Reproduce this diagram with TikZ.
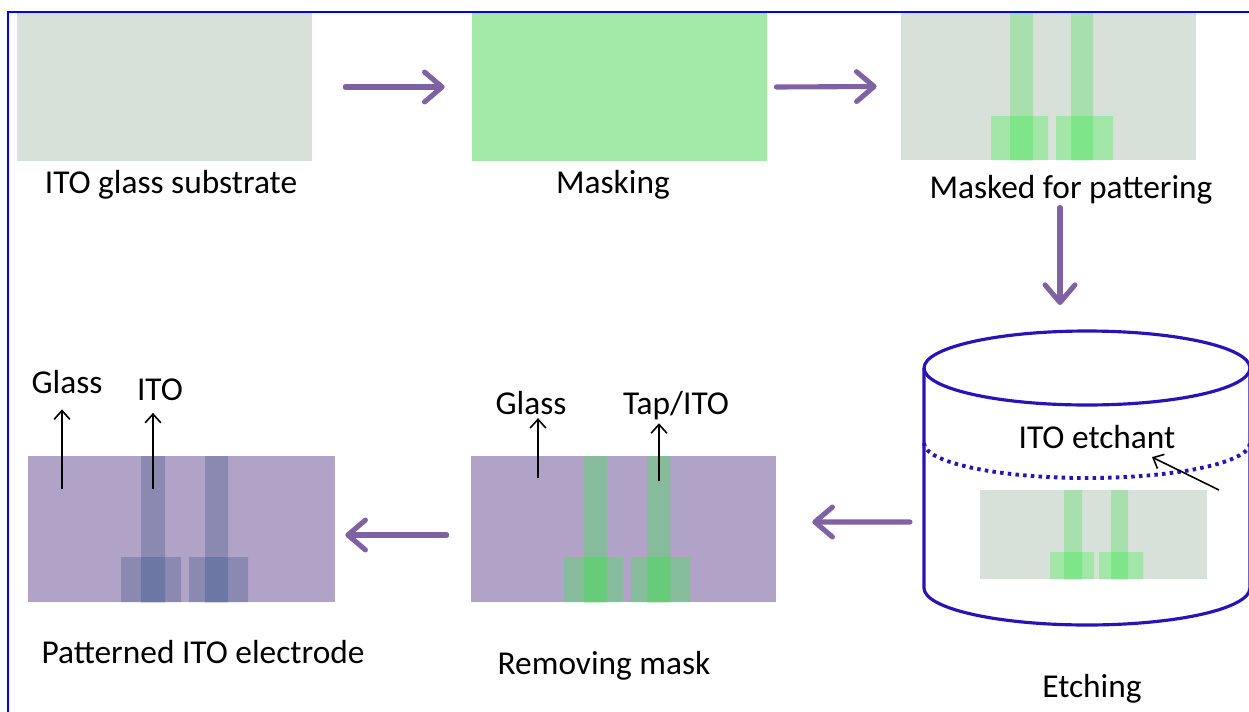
\documentclass[tikz,border=0pt]{standalone}
\usepackage{fontspec}
\setmainfont{Carlito}
\usetikzlibrary{arrows.meta}
\definecolor{glassgrey}{HTML}{D7E1D9}
\definecolor{maskgreen}{HTML}{A2E8A6}
\definecolor{stripgreen}{HTML}{A8DFAF}
\definecolor{padgreen}{HTML}{A2E7A7}
\definecolor{overgreen}{HTML}{7EE689}
\definecolor{etchpurple}{HTML}{B1A2C8}
\definecolor{tapegreen}{HTML}{86BC9C}
\definecolor{tapeover}{HTML}{66CC7A}
\definecolor{itoblue}{HTML}{8B89B2}
\definecolor{itoover}{HTML}{6D77A3}
\definecolor{flowpurple}{HTML}{7F62A2}
\definecolor{tankblue}{HTML}{2B12B8}
\begin{document}
\begin{tikzpicture}[x=0.02cm,y=0.02cm,every node/.style={font=\fontsize{19}{22}\selectfont,inner sep=2pt},
  flow/.style={-{Straight Barb[length=10pt,width=17pt,round]},line width=2.9pt,flowpurple,line cap=round},
  ptr/.style={-{Straight Barb[length=5pt,width=9pt]},line width=0.9pt},
  plate/.style={minimum width=5.9cm,minimum height=2.96cm,inner sep=0pt},
  tank/.style={draw=tankblue,line width=1.8pt}]
\useasboundingbox (0,0) rectangle (1249,-711);
\draw[blue,line width=1.3pt] (8,-720) -- (8,-12) -- (1260,-12);

% top row
\node[plate,fill=glassgrey] (sub) at (164.5,-87) {};
\node[plate,fill=maskgreen] (mask) at (619.5,-87) {};
\node[plate,fill=glassgrey] (pat) at (1048.5,-86.5) {};
\fill[stripgreen] (1010,-13) rectangle (1033,-160) (1071,-13) rectangle (1093,-160);
\fill[padgreen] (991,-116) rectangle (1048,-160) (1056,-116) rectangle (1113,-160);
\fill[overgreen] (1010,-116) rectangle (1033,-160) (1071,-116) rectangle (1093,-160);
\node[anchor=base] (sublbl) at (171,-193) {ITO glass substrate};
\node[anchor=base] (masklbl) at (613,-193) {Masking};
\node[anchor=base] (patlbl) at (1071,-198) {Masked for pattering};
\draw[flow] ([xshift=0.66cm]sub.east) -- ([xshift=-0.54cm]mask.west);
\draw[flow] ([xshift=0.18cm]mask.east) -- ([xshift=-0.48cm]pat.west);

% etching tank
\coordinate (tanktop) at (1060,-305);
\coordinate (tankleft) at (924,-522);
\draw[flow] (patlbl.south -| tanktop) -- (tanktop);
\draw[tank] (1087,-368) ellipse [x radius=3.26cm,y radius=0.74cm];
\draw[tank] (924,-368) -- (924,-588) arc[start angle=180,end angle=360,x radius=3.26cm,y radius=0.74cm] -- (1250,-368);
\draw[tank,line width=2.2pt,dash pattern=on 2pt off 2.4pt] (924,-443) arc[start angle=180,end angle=360,x radius=3.26cm,y radius=0.7cm];
\node[plate,fill=glassgrey,minimum width=4.54cm,minimum height=1.78cm] (bath) at (1093.5,-534.5) {};
\fill[stripgreen] (1064,-490) rectangle (1082,-579) (1111,-490) rectangle (1128,-579);
\fill[padgreen] (1050,-552) rectangle (1094,-579) (1099,-552) rectangle (1143,-579);
\fill[overgreen] (1064,-552) rectangle (1082,-579) (1111,-552) rectangle (1128,-579);
\node[anchor=base] (etchant) at (1097,-448) {ITO etchant};
\coordinate (etchfoot) at (1219,-490);
\draw[ptr] (etchfoot) -- ([xshift=1.1cm,yshift=-0.1cm]etchant.south);
\node[anchor=base] (etchlbl) at (1092,-697) {Etching};

% removing mask
\node[plate,fill=etchpurple,minimum width=6.1cm,minimum height=2.92cm] (rem) at (623.5,-529) {};
\fill[tapegreen] (584,-456) rectangle (607,-602) (647,-456) rectangle (670,-602);
\fill[tapegreen] (564,-557) rectangle (623,-602) (631,-557) rectangle (690,-602);
\fill[tapeover] (584,-557) rectangle (607,-602) (647,-557) rectangle (670,-602);
\node[anchor=base] (rglass) at (531,-414) {Glass};
\node[anchor=base] (rtape) at (676,-414) {Tap/ITO};
\coordinate (rglassfoot) at (538,-478);
\coordinate (rtapefoot) at (659,-481);
\draw[ptr] (rglassfoot) -- (rglassfoot |- rglass.south);
\draw[ptr] (rtapefoot) -- (rtapefoot |- rtape.south);
\node[anchor=base] (remlbl) at (604,-674) {Removing mask};
\draw[flow] ([xshift=-0.28cm]tankleft) -- ([xshift=0.72cm,yshift=0.14cm]rem.east);

% patterned electrode
\node[plate,fill=etchpurple,minimum width=6.14cm,minimum height=2.92cm] (elec) at (181.5,-529) {};
\fill[itoblue] (141,-456) rectangle (165,-602) (205,-456) rectangle (228,-602);
\fill[itoblue] (121,-557) rectangle (181,-602) (189,-557) rectangle (248,-602);
\fill[itoover] (141,-557) rectangle (165,-602) (205,-557) rectangle (228,-602);
\node[anchor=base] (eglass) at (67,-393) {Glass};
\node[anchor=base] (eito) at (160,-400) {ITO};
\coordinate (eglassfoot) at (62,-489);
\coordinate (eitofoot) at (153,-489);
\draw[ptr,shorten >=7pt] (eglassfoot) -- (eglassfoot |- eglass.south);
\draw[ptr,shorten >=5pt] (eitofoot) -- (eitofoot |- eito.south);
\node[anchor=base] (eleclbl) at (203,-663) {Patterned ITO electrode};
\draw[flow] ([xshift=-0.48cm,yshift=-0.12cm]rem.west) -- ([xshift=0.2cm,yshift=-0.12cm]elec.east);
\end{tikzpicture}
\end{document}
